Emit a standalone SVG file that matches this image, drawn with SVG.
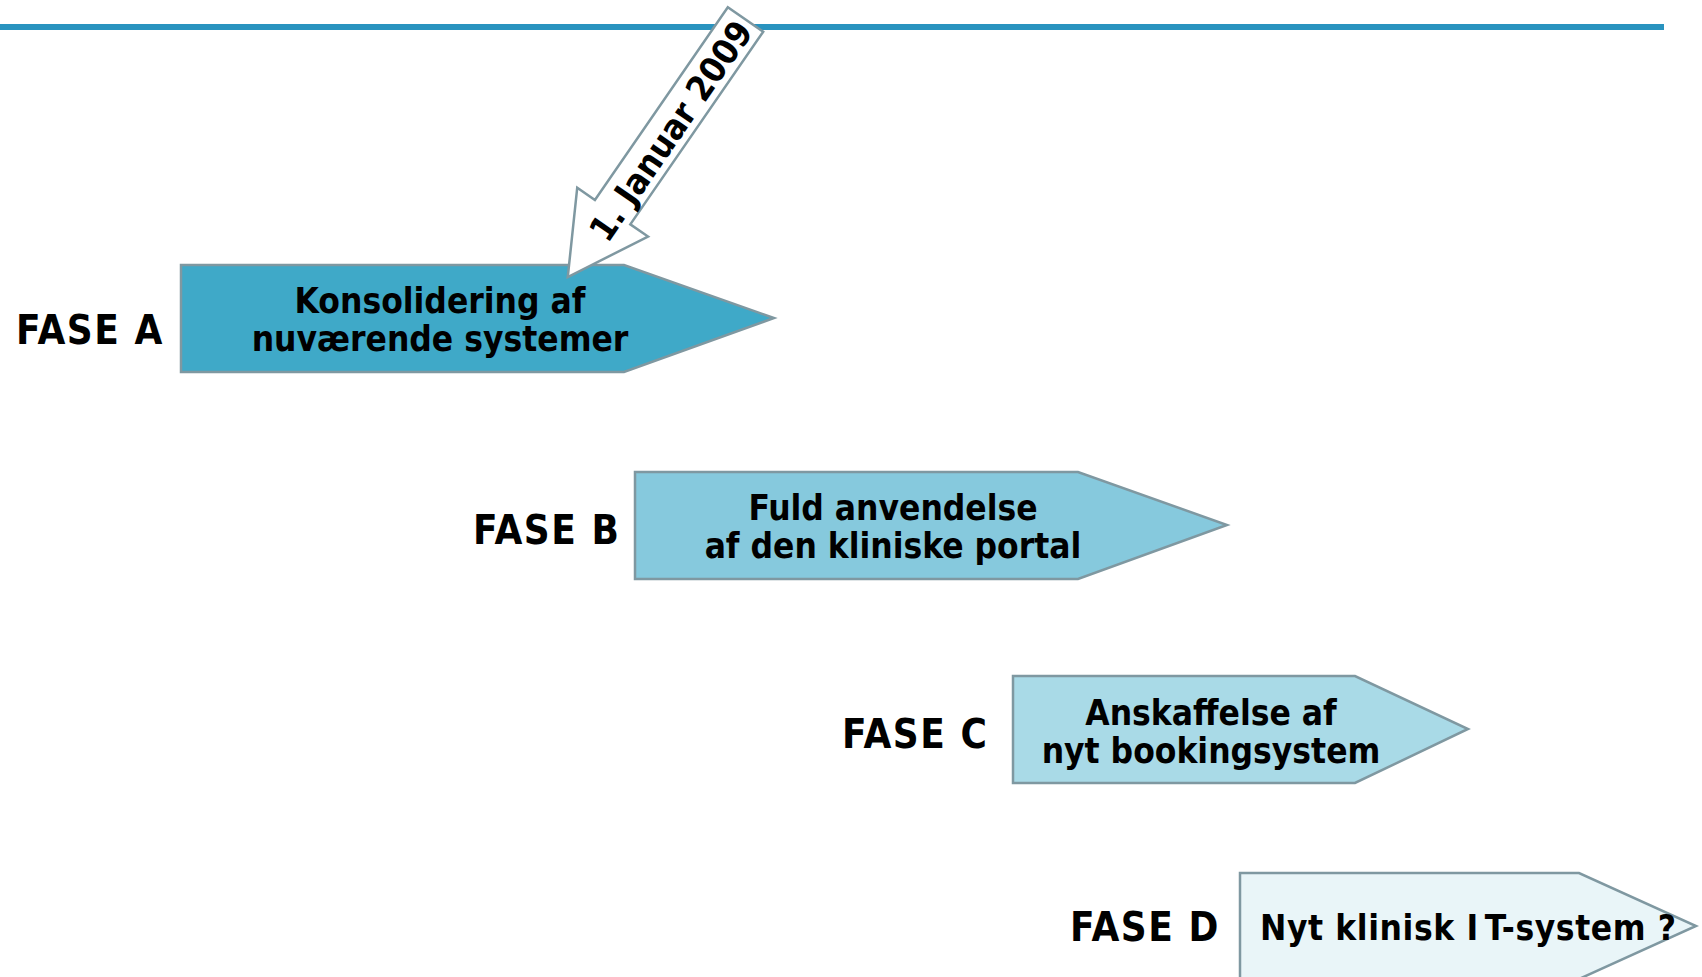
<svg xmlns="http://www.w3.org/2000/svg" width="1702" height="977" viewBox="0 0 1702 977">
<style>
.shape{stroke:#7F98A1;stroke-width:2.5}
.t{font-family:"DejaVu Sans Condensed","DejaVu Sans",sans-serif;font-stretch:condensed;font-weight:bold;fill:#000}
.box{font-size:35px;text-anchor:middle}
.lbl{font-size:40px;letter-spacing:1.5px}
</style>
<rect x="0" y="24" width="1664" height="6" fill="#2993BF"/>
<g id="faseA">
<polygon class="shape" fill="#3FA9C8" points="181,265 624,265 774,318 624,372 181,372"/>
<text class="t box" x="440" y="313">Konsolidering af</text>
<text class="t box" x="440" y="351">nuværende systemer</text>
<text class="t lbl" x="16" y="344">FASE A</text>
</g>
<g id="faseB">
<polygon class="shape" fill="#86C9DD" points="635,472 1078,472 1227,525 1078,579 635,579"/>
<text class="t box" x="893" y="520">Fuld anvendelse</text>
<text class="t box" x="893" y="558">af den kliniske portal</text>
<text class="t lbl" x="473" y="544">FASE B</text>
</g>
<g id="faseC">
<polygon class="shape" fill="#A9DAE7" points="1013,676 1355,676 1468,729 1355,783 1013,783"/>
<text class="t box" x="1211" y="725">Anskaffelse af</text>
<text class="t box" x="1211" y="763">nyt bookingsystem</text>
<text class="t lbl" x="842" y="748">FASE C</text>
</g>
<g id="faseD">
<polygon class="shape" fill="#E9F5F8" points="1240,873 1579,873 1696,926 1579,979 1240,979"/>
<text class="t" font-size="35" letter-spacing="0.6" x="1260" y="940">Nyt klinisk I<tspan dx="6">T</tspan>-system ?</text>
<text class="t lbl" x="1070" y="941">FASE D</text>
</g>
<g id="connectors">
<g id="callout">
<polygon class="shape" fill="#FFFFFF" transform="translate(745.5,19.5) rotate(124.6)" points="0,-21.5 234,-21.5 234,-43 313,0 234,43 234,21.5 0,21.5"/>
<text class="t" font-size="35" text-anchor="middle" transform="translate(671,131) rotate(-55.4)" y="12">1. Januar 2009</text>
</g>
</g>
</svg>
